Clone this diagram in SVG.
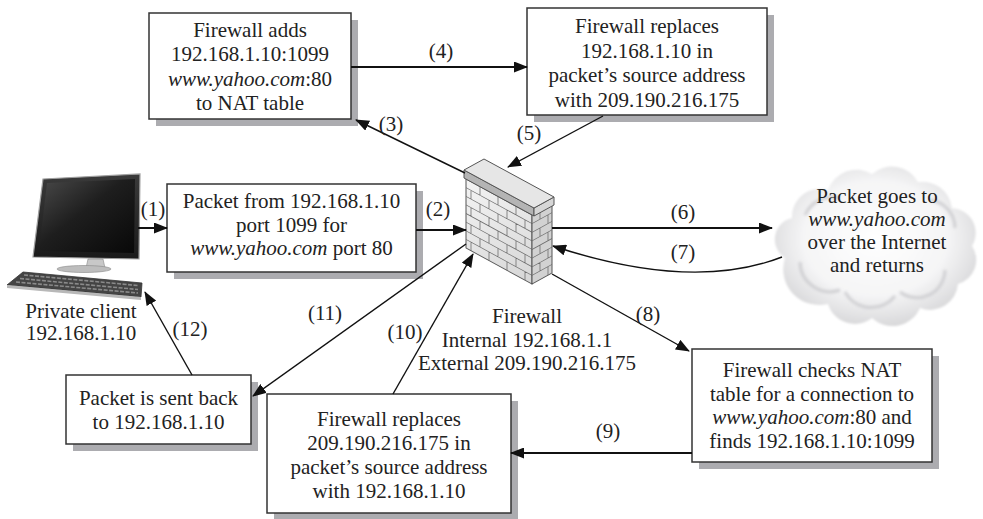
<svg xmlns="http://www.w3.org/2000/svg" width="983" height="519" viewBox="0 0 983 519" font-family="Liberation Serif, DejaVu Serif, serif">
  <style>
    .box{fill:#fff;stroke:#333;stroke-width:1.5}
    .shadow{fill:#acacb0}
    .t{font-size:21px;fill:#222;text-anchor:middle}
    .i{font-style:italic}
    .arrow{stroke:#111;stroke-width:1.4;fill:none;marker-end:url(#ah)}
    .h{stroke-width:2}
    .joint{stroke:#6e6e6e;stroke-width:0.8;fill:none}
    .edge{stroke:#555;stroke-width:1;stroke-linejoin:round}
  </style>
  <defs>
    <marker id="ah" markerUnits="userSpaceOnUse" markerWidth="14" markerHeight="11" refX="13" refY="5.5" orient="auto" viewBox="0 0 14 11">
      <path d="M0,0 L14,5.5 L0,11 z" fill="#111"/>
    </marker>
    <radialGradient id="cloudFill" cx="50%" cy="45%" r="60%">
      <stop offset="0" stop-color="#ffffff"/>
      <stop offset="0.6" stop-color="#f5f5f6"/>
      <stop offset="1" stop-color="#d2d2d4"/>
    </radialGradient>
    <linearGradient id="screen" x1="0" y1="0" x2="1" y2="1">
      <stop offset="0" stop-color="#4a4a4a"/>
      <stop offset="0.45" stop-color="#1e1e1e"/>
      <stop offset="1" stop-color="#080808"/>
    </linearGradient>
    <linearGradient id="bezel" x1="0" y1="0" x2="0" y2="1">
      <stop offset="0" stop-color="#3a3a3a"/>
      <stop offset="1" stop-color="#1a1a1a"/>
    </linearGradient>
    <linearGradient id="brickFront" x1="0" y1="0" x2="1" y2="1">
      <stop offset="0" stop-color="#f4f4f4"/>
      <stop offset="1" stop-color="#d6d6d6"/>
    </linearGradient>
    <filter id="soft" x="-10%" y="-10%" width="120%" height="120%">
      <feGaussianBlur stdDeviation="1.5"/>
    </filter>
    <filter id="cloudEdge" x="-5%" y="-5%" width="110%" height="110%">
      <feGaussianBlur stdDeviation="0.8"/>
    </filter>
  </defs>

  <!-- private client workstation -->
  <g id="client">
    <polygon points="43,179 140,174 139,259 33,257" fill="url(#bezel)" stroke="#a0a0a0" stroke-width="1.2"/>
    <polygon points="47,183 135,179 134,253 39,251" fill="url(#screen)"/>
    <polygon points="88,259 103,259 105,268 86,268" fill="#c8c8c8" stroke="#888" stroke-width="0.6"/>
    <ellipse cx="84" cy="269" rx="27" ry="3.5" fill="#bdbdbd" stroke="#888" stroke-width="0.6"/>
    <polygon points="23,272 142,283 141,297 7,285" fill="#444" stroke="#333" stroke-width="0.8"/>
    <polygon points="7,285 141,297 141,300 7,288" fill="#b8b8b8"/>
    <g stroke="#8a8a8a" stroke-width="1.6" stroke-dasharray="4 1.5">
      <line x1="24" y1="275" x2="138" y2="285.5"/>
      <line x1="20" y1="278.5" x2="138" y2="289.5"/>
      <line x1="16" y1="282" x2="138" y2="293"/>
    </g>
    <text class="t" x="81" y="318">Private client</text>
    <text class="t" x="81" y="340">192.168.1.10</text>
  </g>

  <!-- firewall brick wall -->
  <g id="firewall">
    <!-- front face -->
    <g transform="matrix(1,0.545,0,1,466,179)">
      <rect x="0" y="0" width="66" height="69" fill="url(#brickFront)" class="edge"/>
      <path class="joint" d="M0,8.6H66M0,17.3H66M0,25.9H66M0,34.5H66M0,43.1H66M0,51.8H66M0,60.4H66
        M14,0V8.6M32,0V8.6M50,0V8.6
        M5,8.6V17.3M23,8.6V17.3M41,8.6V17.3M59,8.6V17.3
        M14,17.3V25.9M32,17.3V25.9M50,17.3V25.9
        M5,25.9V34.5M23,25.9V34.5M41,25.9V34.5M59,25.9V34.5
        M14,34.5V43.1M32,34.5V43.1M50,34.5V43.1
        M5,43.1V51.8M23,43.1V51.8M41,43.1V51.8M59,43.1V51.8
        M14,51.8V60.4M32,51.8V60.4M50,51.8V60.4
        M5,60.4V69M23,60.4V69M41,60.4V69M59,60.4V69"/>
    </g>
    <!-- right face -->
    <g transform="matrix(1,-0.55,0,1,532,215)">
      <rect x="0" y="0" width="20" height="69" fill="#d2d2d2" class="edge"/>
      <path class="joint" d="M0,8.6H20M0,17.3H20M0,25.9H20M0,34.5H20M0,43.1H20M0,51.8H20M0,60.4H20
        M8,0V8.6M16,8.6V17.3M8,17.3V25.9M16,25.9V34.5M8,34.5V43.1M16,43.1V51.8M8,51.8V60.4M16,60.4V69"/>
    </g>
    <!-- capstone -->
    <polygon class="edge" points="464,170 534,208 534,216 464,178" fill="#b4b4b4"/>
    <polygon class="edge" points="534,208 554,197 554,205 534,216" fill="#d6d6d6"/>
    <polygon class="edge" points="464,170 484,159 554,197 534,208" fill="#e6e6e6"/>
    <text class="t" x="527" y="323">Firewall</text>
    <text class="t" x="527" y="347">Internal 192.168.1.1</text>
    <text class="t" x="527" y="370">External 209.190.216.175</text>
  </g>

  <!-- internet cloud -->
  <g id="internet">
    <path filter="url(#cloudEdge)" d="M785,258 A22,22 0 0 1 792,218 A28,28 0 0 1 828,190 A30,30 0 0 1 872,174 A30,30 0 0 1 918,182 A30,30 0 0 1 952,208 A25,25 0 0 1 972,246 A25,25 0 0 1 958,284 A28,28 0 0 1 920,308 A30,30 0 0 1 872,318 A28,28 0 0 1 828,304 A36,36 0 0 1 785,258 Z" fill="url(#cloudFill)"/>
    <g fill="none" stroke="#cfcfd2" stroke-width="3" filter="url(#soft)">
      <path d="M800,262 A30,30 0 0 0 840,290"/>
      <path d="M845,292 A30,30 0 0 0 895,296"/>
      <path d="M900,292 A28,28 0 0 0 945,270"/>
      <path d="M805,215 A30,30 0 0 1 840,198"/>
      <path d="M930,200 A28,28 0 0 1 955,228"/>
    </g>
    <text class="t" x="877" y="203">Packet goes to</text>
    <text class="t i" x="877" y="226">www.yahoo.com</text>
    <text class="t" x="877" y="249">over the Internet</text>
    <text class="t" x="877" y="272">and returns</text>
  </g>

  <!-- step boxes -->
  <g id="nat-add">
    <rect class="shadow" x="156" y="20" width="202" height="106"/>
    <rect class="box" x="149" y="13" width="202" height="106"/>
    <text class="t" x="250" y="37">Firewall adds</text>
    <text class="t" x="250" y="61">192.168.1.10:1099</text>
    <text class="t" x="250" y="86"><tspan class="i">www.yahoo.com</tspan>:80</text>
    <text class="t" x="250" y="110">to NAT table</text>
  </g>

  <g id="replace-out">
    <rect class="shadow" x="534" y="15" width="240" height="107"/>
    <rect class="box" x="527" y="8" width="240" height="107"/>
    <text class="t" x="647" y="33">Firewall replaces</text>
    <text class="t" x="647" y="58">192.168.1.10 in</text>
    <text class="t" x="647" y="82">packet’s source address</text>
    <text class="t" x="647" y="107">with 209.190.216.175</text>
  </g>

  <g id="packet-out">
    <rect class="shadow" x="174" y="191" width="249" height="88"/>
    <rect class="box" x="167" y="184" width="249" height="88"/>
    <text class="t" x="291.5" y="208">Packet from 192.168.1.10</text>
    <text class="t" x="291.5" y="231.5">port 1099 for</text>
    <text class="t" x="291.5" y="255"><tspan class="i">www.yahoo.com</tspan> port 80</text>
  </g>

  <g id="sent-back">
    <rect class="shadow" x="73" y="382" width="185" height="69"/>
    <rect class="box" x="66" y="375" width="185" height="69"/>
    <text class="t" x="158.5" y="405">Packet is sent back</text>
    <text class="t" x="158.5" y="429">to 192.168.1.10</text>
  </g>

  <g id="replace-in">
    <rect class="shadow" x="274" y="401" width="244" height="119"/>
    <rect class="box" x="267" y="394" width="244" height="119"/>
    <text class="t" x="389" y="426">Firewall replaces</text>
    <text class="t" x="389" y="450">209.190.216.175 in</text>
    <text class="t" x="389" y="474">packet’s source address</text>
    <text class="t" x="389" y="498">with 192.168.1.10</text>
  </g>

  <g id="nat-check">
    <rect class="shadow" x="699" y="356" width="240" height="113"/>
    <rect class="box" x="692" y="349" width="240" height="113"/>
    <text class="t" x="812" y="377">Firewall checks NAT</text>
    <text class="t" x="812" y="400.5">table for a connection to</text>
    <text class="t" x="812" y="424"><tspan class="i">www.yahoo.com</tspan>:80 and</text>
    <text class="t" x="812" y="448">finds 192.168.1.10:1099</text>
  </g>

  <!-- numbered steps -->
  <g id="connectors">
    <line class="arrow h" x1="138" y1="228" x2="167" y2="228"/>
    <line class="arrow h" x1="416" y1="230" x2="466" y2="230"/>
    <line class="arrow" x1="465" y1="173" x2="356" y2="120"/>
    <line class="arrow h" x1="351" y1="67" x2="527" y2="67"/>
    <line class="arrow" x1="603" y1="116" x2="508" y2="167"/>
    <line class="arrow h" x1="552" y1="228" x2="772" y2="228"/>
    <path class="arrow" d="M782,257 Q692,292 553,246"/>
    <line class="arrow" x1="552" y1="274" x2="689" y2="351"/>
    <line class="arrow h" x1="692" y1="453" x2="511" y2="453"/>
    <line class="arrow" x1="393" y1="394" x2="473" y2="254"/>
    <line class="arrow" x1="466" y1="244" x2="253" y2="396"/>
    <line class="arrow" x1="192" y1="375" x2="145" y2="292"/>

    <text class="t" x="153" y="216">(1)</text>
    <text class="t" x="438" y="216">(2)</text>
    <text class="t" x="391" y="131">(3)</text>
    <text class="t" x="441" y="58">(4)</text>
    <text class="t" x="529" y="140">(5)</text>
    <text class="t" x="683" y="219">(6)</text>
    <text class="t" x="683" y="259">(7)</text>
    <text class="t" x="648" y="321">(8)</text>
    <text class="t" x="608" y="438">(9)</text>
    <text class="t" x="405" y="339">(10)</text>
    <text class="t" x="325" y="320">(11)</text>
    <text class="t" x="190" y="336">(12)</text>
  </g>
</svg>
